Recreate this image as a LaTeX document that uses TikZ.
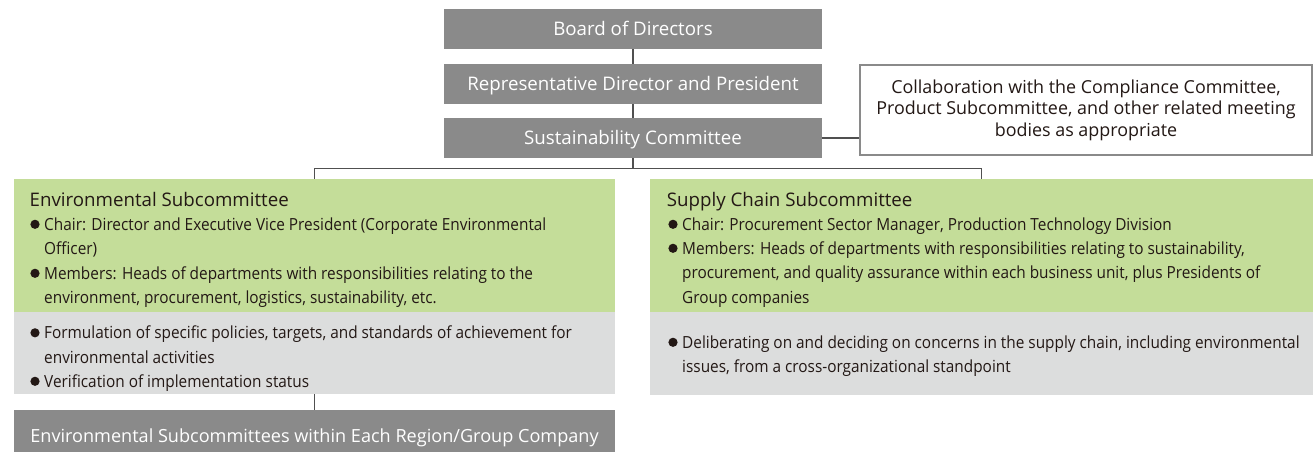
\documentclass[tikz,border=0pt]{standalone}
\usepackage{fontspec}
\setmainfont{Open Sans}
\newfontfamily\bodyfont{Open Sans}[FakeStretch=0.92]
\usepackage{tikz}
\usetikzlibrary{positioning,calc}
\definecolor{boxgray}{RGB}{138,138,138}
\definecolor{leafgreen}{RGB}{196,221,153}
\definecolor{mistgray}{RGB}{220,221,221}
\definecolor{wiregray}{RGB}{80,80,80}
\definecolor{inkblack}{RGB}{35,24,21}
\tikzset{
  govbox/.style={fill=boxgray, text=white, minimum width=378pt, minimum height=40pt, inner sep=0pt,
    font=\fontsize{18.7}{22}\selectfont, text height=13.4pt, text depth=0pt},
  panel/.style={anchor=north west, inner sep=0pt, outer sep=0pt},
  wire/.style={draw=wiregray, line width=1.2pt},
  dot/.style={circle, fill=inkblack, inner sep=0pt, minimum size=9.2pt},
  heading/.style={anchor=base west, inner sep=0pt, text=inkblack, font=\fontsize{18.7}{22}\selectfont},
  entry/.style={anchor=base west, inner sep=0pt, align=left, text=inkblack,
    font=\bodyfont\fontsize{16.7}{24.5}\selectfont},
}
\begin{document}
\begin{tikzpicture}[x=1pt,y=-1pt]
  \useasboundingbox (0,0) rectangle (1315,451);
  \clip (0,0) rectangle (1315,451);
  \def\cx{633}
  \def\lh{24.5}
  % top of the chain
  \node[govbox] (board) at (\cx,29) {Board of Directors};
  \node[govbox] (president) at (\cx,84) {Representative Director and President};
  \node[govbox] (sustain) at (\cx,138) {Sustainability Committee};
  \node[draw=boxgray, line width=2pt, fill=white, minimum width=452pt, minimum height=90pt, inner sep=0pt,
    align=center, text=inkblack, font=\fontsize{17.9}{21.5}\selectfont] (collab) at (1086,110)
    {Collaboration with the Compliance Committee,\\Product Subcommittee, and other related meeting\\bodies as appropriate};

  % panels
  \node[panel, fill=leafgreen, minimum width=601pt, minimum height=133pt] (envhead) at (14,179) {};
  \node[panel, fill=mistgray, minimum width=601pt, minimum height=82pt] (envtask) at (14,312) {};
  \node[panel, fill=boxgray, minimum width=601pt, minimum height=50pt, text=white,
    font=\fontsize{18.1}{22}\selectfont, text height=14pt, text depth=0pt] (regional) at (14,410)
    {Environmental Subcommittees within Each Region/Group Company};
  \node[panel, fill=leafgreen, minimum width=663pt, minimum height=133pt] (supplyhead) at (650,179) {};
  \node[panel, fill=mistgray, minimum width=663pt, minimum height=83pt] (supplytask) at (650,312) {};

  \draw[wire] (board) -- (president);
  \draw[wire] (president) -- (sustain);
  \draw[wire] (sustain.east) -- (collab.west |- sustain.east);
  \coordinate (split) at ($(sustain.south)+(0,10)$);
  \draw[wire] (sustain.south) -- (split);
  \draw[wire] (envhead.north) |- (split) -| (supplyhead.north);
  \draw[wire] (envtask.south) -- (regional.north);

  % texts (base west = baseline of the last line)
  \node[heading] (envtitle) at (29.5,206) {Environmental Subcommittee};
  \node[entry] (envchair) at (44,230+\lh) {Chair: Director and Executive Vice President (Corporate Environmental\\Officer)};
  \node[entry] (envmembers) at (44,279+\lh) {Members: Heads of departments with responsibilities relating to the\\environment, procurement, logistics, sustainability, etc.};
  \node[entry] (envpolicy) at (44,338.5+\lh) {Formulation of specific policies, targets, and standards of achievement for\\environmental activities};
  \node[entry] (envcheck) at (44,387) {Verification of implementation status};

  \node[heading] (supplytitle) at (666.7,206) {Supply Chain Subcommittee};
  \node[entry] (supplychair) at (682,230) {Chair: Procurement Sector Manager, Production Technology Division};
  \node[entry] (supplymembers) at (682,254+2*\lh) {Members: Heads of departments with responsibilities relating to sustainability,\\procurement, and quality assurance within each business unit, plus Presidents of\\Group companies};
  \node[entry] (supplyissues) at (682,348+\lh) {Deliberating on and deciding on concerns in the supply chain, including environmental\\issues, from a cross-organizational standpoint};

  \foreach \n/\k in {envchair/1,envmembers/1,envpolicy/1,envcheck/0,supplychair/0,supplymembers/2,supplyissues/1}
    \node[dot] (dot-\n) at ([xshift=-9pt,yshift={5.7pt+\k*\lh pt}]\n.base west) {};
\end{tikzpicture}
\end{document}
